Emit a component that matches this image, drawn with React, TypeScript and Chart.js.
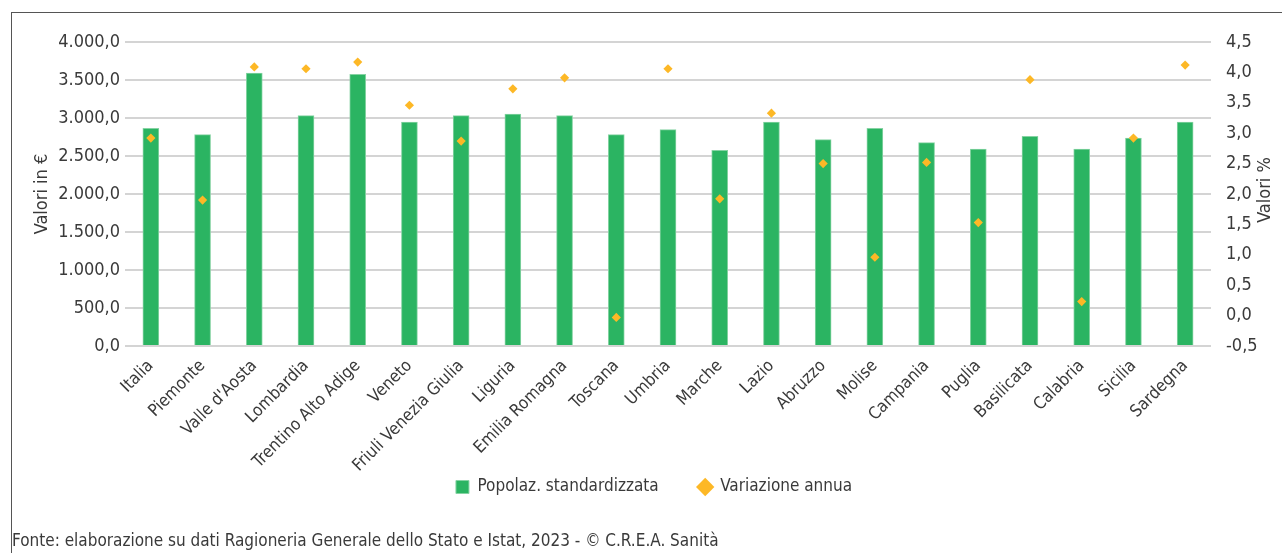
import React, { useEffect, useRef } from "react";
import { Chart, registerables } from "chart.js";

Chart.register(...registerables);

const categories = [
  "Italia", "Piemonte", "Valle d'Aosta", "Lombardia", "Trentino Alto Adige", "Veneto",
  "Friuli Venezia Giulia", "Liguria", "Emilia Romagna", "Toscana", "Umbria", "Marche",
  "Lazio", "Abruzzo", "Molise", "Campania", "Puglia", "Basilicata", "Calabria", "Sicilia", "Sardegna",
];

const popolazStandardizzata = [
  2864, 2782, 3592, 3032, 3575, 2947, 3032, 3053, 3032, 2782, 2847, 2575,
  2947, 2716, 2864, 2676, 2592, 2759, 2592, 2737, 2947,
];

const variazioneAnnua = [
  2.92, 1.9, 4.09, 4.06, 4.17, 3.46, 2.87, 3.73, 3.91, -0.03, 4.06, 1.92,
  3.33, 2.5, 0.96, 2.52, 1.53, 3.88, 0.23, 2.92, 4.12,
];

const seriesLabels = ["Popolaz. standardizzata", "Variazione annua"];
const leftAxisTitle = "Valori in €";
const rightAxisTitle = "Valori %";
const footerText = "Fonte: elaborazione su dati Ragioneria Generale dello Stato e Istat, 2023 - © C.R.E.A. Sanità";

const FONT = "'DejaVu Sans Condensed', 'Liberation Sans Narrow', sans-serif";
const TEXT = "#3a3a3a";
const GREEN = "#2bb462";
const ORANGE = "#fdb826";

function fmtIt(v: number): string {
  const [i, d] = Math.abs(v).toFixed(1).split(".");
  const g = i.replace(/\B(?=(\d{3})+(?!\d))/g, ".");
  return (v < 0 ? "-" : "") + g + "," + d;
}

const layoutTweaks = {
  id: "layoutTweaks",
  afterLayout(chart: any) {
    const lg = chart.legend;
    if (lg) {
      lg.top -= 32.5;
      lg.bottom -= 32.5;
    }
  },
  afterDraw(chart: any) {
    const ctx = chart.ctx;
    const area = chart.chartArea;
    ctx.save();
    ctx.fillStyle = TEXT;
    ctx.font = `18px ${FONT}`;
    ctx.textAlign = "center";
    ctx.textBaseline = "middle";
    ctx.translate(1265, (area.top + area.bottom) / 2 - 4);
    ctx.rotate(-Math.PI / 2);
    ctx.fillText(rightAxisTitle, 0, 0);
    ctx.restore();
  },
};

export default function App() {
  const ref = useRef<HTMLCanvasElement | null>(null);

  useEffect(() => {
    document.body.style.margin = "0";
    document.body.style.overflow = "hidden";
    const canvas = ref.current;
    if (!canvas) return;
    const chart = new Chart(canvas, {
      type: "bar",
      data: {
        labels: categories,
        datasets: [
          {
            type: "line",
            label: seriesLabels[1],
            data: variazioneAnnua,
            yAxisID: "y1",
            showLine: false,
            pointStyle: "rectRot",
            pointRadius: 4.6,
            backgroundColor: ORANGE,
            borderColor: ORANGE,
            borderWidth: 0,
            order: 0,
          } as any,
          {
            type: "bar",
            label: seriesLabels[0],
            data: popolazStandardizzata,
            yAxisID: "y",
            backgroundColor: GREEN,
            borderColor: "#86d3a3",
            borderWidth: 1,
            barThickness: 16,
            pointStyle: "rect",
            order: 1,
          } as any,
        ],
      },
      options: {
        responsive: false,
        animation: false,
        devicePixelRatio: 1,
        layout: { padding: { left: 26, right: 0, top: 42, bottom: 3 } },
        plugins: {
          tooltip: { enabled: false },
          legend: {
            position: "bottom",
            labels: {
              usePointStyle: true,
              boxHeight: 13,
              boxWidth: 13,
              padding: 40,
              color: TEXT,
              font: { family: FONT, size: 17 },
              sort: (a: any, b: any) => b.datasetIndex - a.datasetIndex,
            },
          },
        },
        scales: {
          x: {
            grid: { display: false },
            border: { display: false },
            ticks: {
              color: TEXT,
              font: { family: FONT, size: 17 },
              maxRotation: 45,
              minRotation: 45,
              autoSkip: false,
              padding: 2,
            },
            afterFit: (s: any) => { s.height = 125; },
          },
          y: {
            position: "left",
            min: 0,
            max: 4000,
            ticks: {
              stepSize: 500,
              color: TEXT,
              font: { family: FONT, size: 18 },
              padding: 5,
              callback: (v: any) => fmtIt(Number(v)),
            },
            grid: { color: "#d4d4d4", lineWidth: 2, drawTicks: false },
            border: { display: false },
            title: {
              display: true,
              text: leftAxisTitle,
              color: TEXT,
              font: { family: FONT, size: 18 },
              padding: { top: 6, bottom: 0 },
            },
            afterFit: (s: any) => { s.width = 99; },
          },
          y1: {
            position: "right",
            min: -0.5,
            max: 4.5,
            ticks: {
              stepSize: 0.5,
              color: TEXT,
              font: { family: FONT, size: 18 },
              padding: 15,
              callback: (v: any) => Number(v).toFixed(1).replace(".", ","),
            },
            grid: { display: false, drawOnChartArea: false, drawTicks: false },
            border: { display: false },
            afterFit: (s: any) => { s.width = 71; },
          },
        },
      } as any,
      plugins: [layoutTweaks],
    });
    return () => chart.destroy();
  }, []);

  return (
    <div style={{ position: "relative", width: 1282, height: 553, overflow: "hidden", background: "#fff" }}>
      <div
        style={{
          position: "absolute",
          left: 11,
          top: 12,
          width: 1300,
          height: 600,
          borderLeft: "1px solid #555",
          borderTop: "1px solid #555",
          boxSizing: "border-box",
        }}
      />
      <canvas ref={ref} width={1282} height={541} style={{ position: "absolute", left: 0, top: 0, width: 1282, height: 541 }} />
      <div
        style={{
          position: "absolute",
          left: 12,
          top: 529,
          fontFamily: FONT,
          fontSize: 17,
          lineHeight: "22px",
          color: TEXT,
          whiteSpace: "nowrap",
        }}
      >
        {footerText}
      </div>
    </div>
  );
}
